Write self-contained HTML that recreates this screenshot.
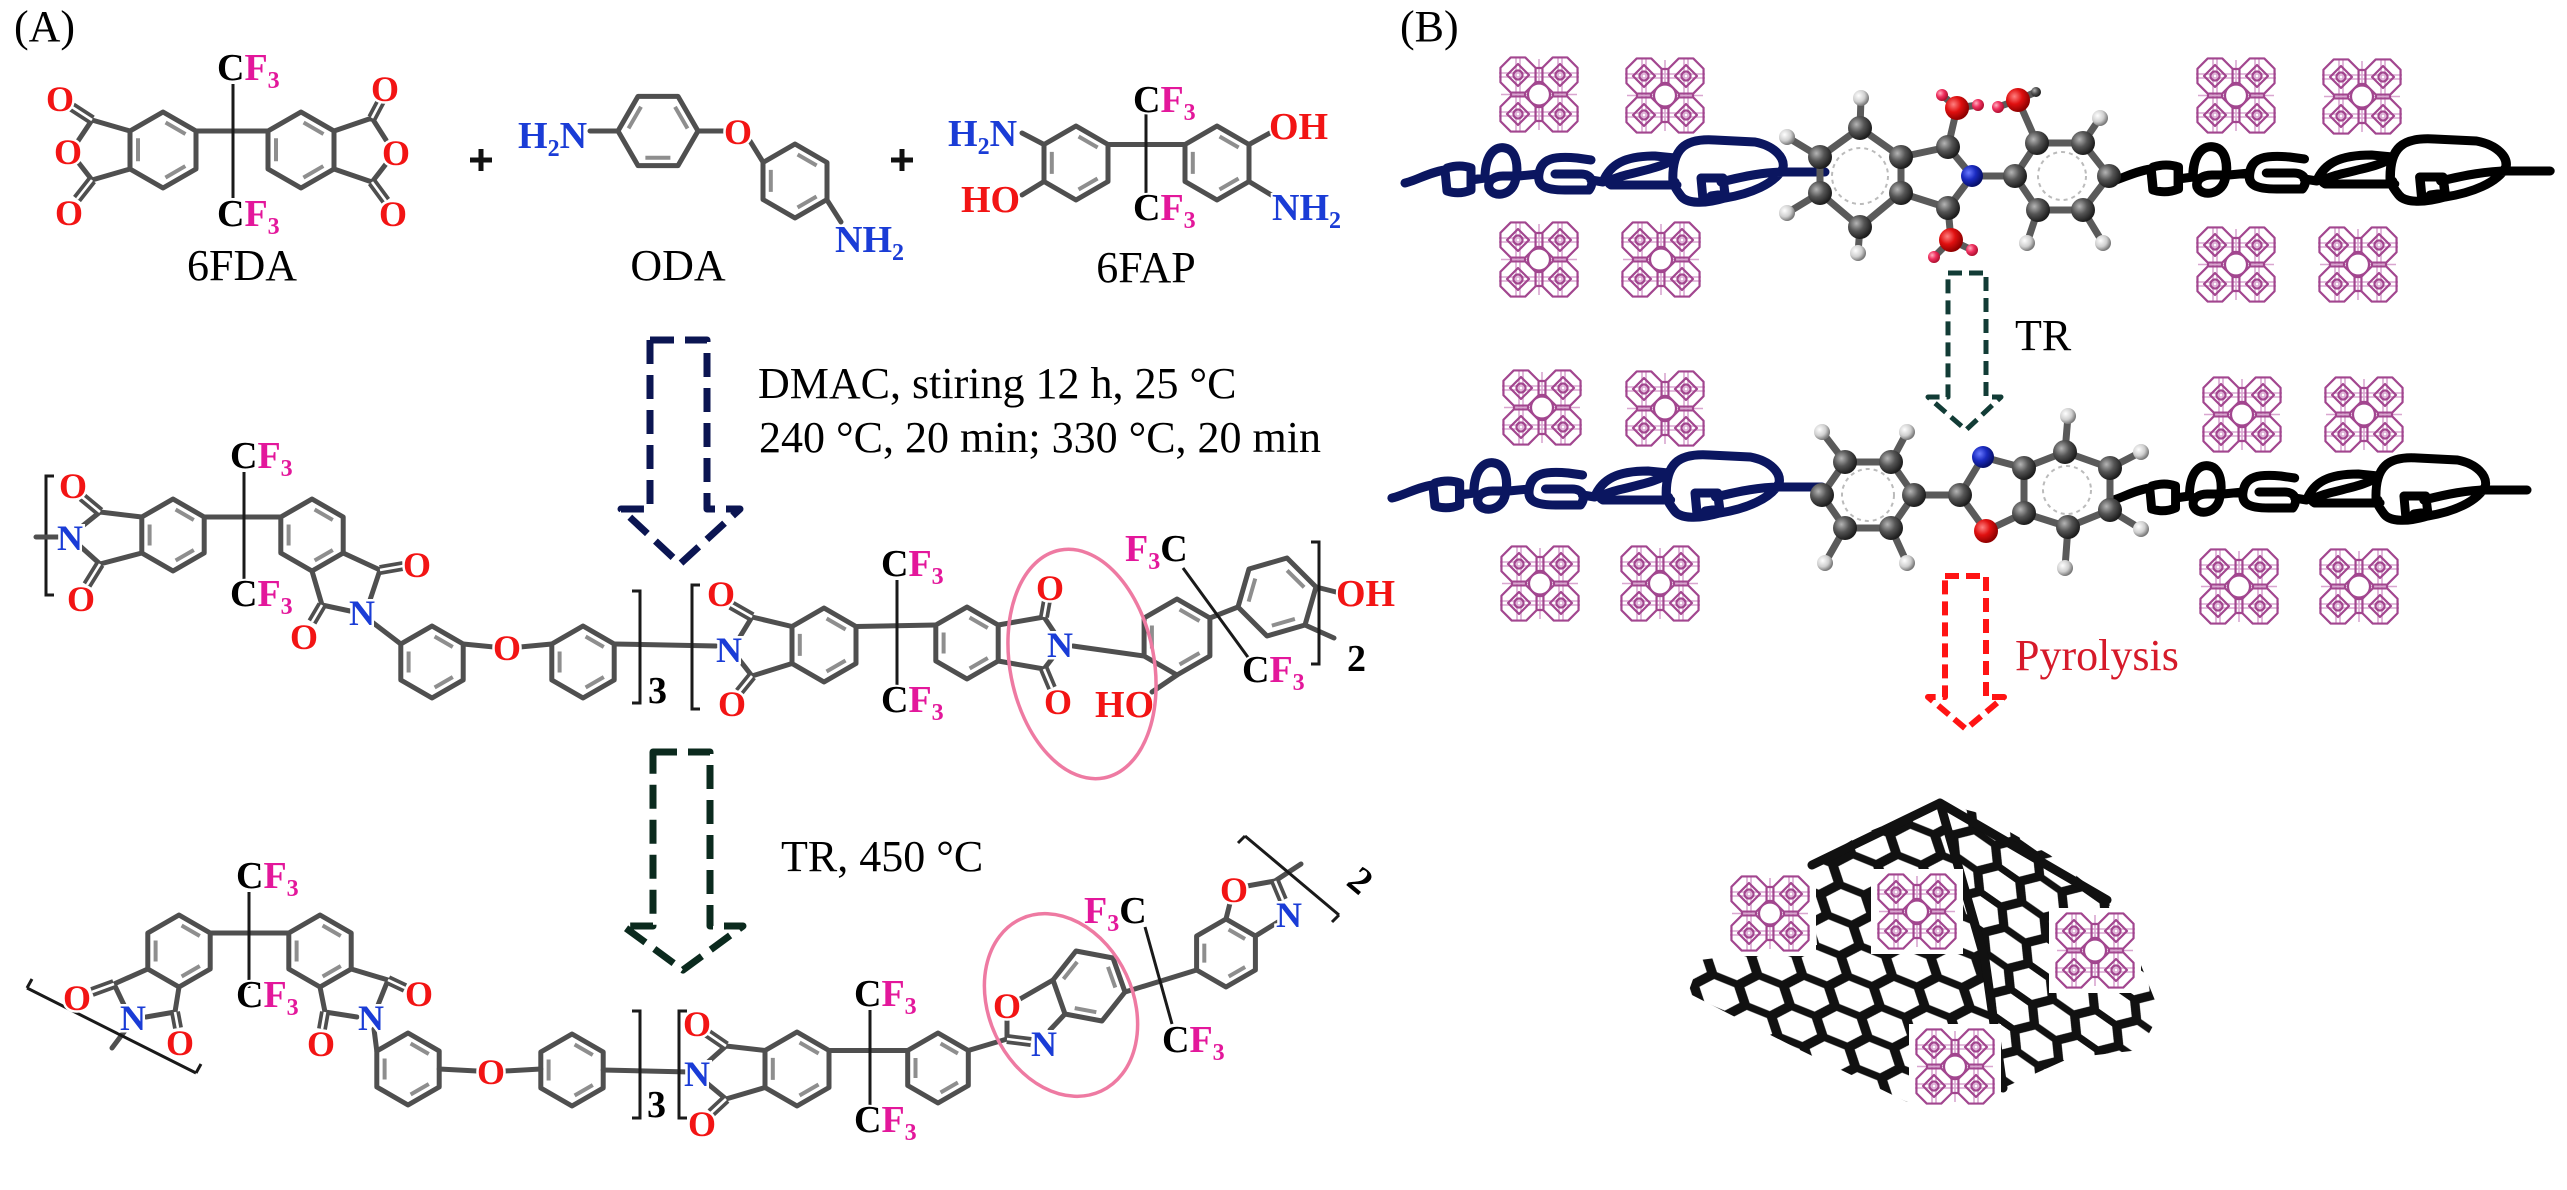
<!DOCTYPE html>
<html><head><meta charset="utf-8">
<style>
html,body{margin:0;padding:0;background:#fff}
svg{display:block}
</style></head><body>
<svg width="2567" height="1190" viewBox="0 0 2567 1190" xmlns="http://www.w3.org/2000/svg" xmlns:xlink="http://www.w3.org/1999/xlink">
<defs>
<style>
.t{font-family:"Liberation Serif",serif;font-size:44px;fill:#000}
.a{font-family:"Liberation Serif",serif;font-weight:bold;font-size:36px;text-anchor:middle;paint-order:stroke;stroke:#fff;stroke-width:5px}
.l{font-family:"Liberation Serif",serif;font-weight:bold;font-size:38px;paint-order:stroke;stroke:#fff;stroke-width:4px}
.o{fill:#f21414}.n{fill:#1a3cd6}.f{fill:#e3179b}.c{fill:#000}
.b{stroke:#4f4f4f;stroke-width:5;fill:none;stroke-linecap:round;stroke-linejoin:round}
.r{stroke:#4f4f4f;stroke-width:5;fill:none;stroke-linejoin:round}
.k{stroke:#1a1a1a;stroke-width:3;fill:none}
.in{stroke:#8e8e8e;stroke-width:4;fill:none}
.dbl{stroke:#4f4f4f;stroke-width:10;fill:none}
.dw{stroke:#fff;stroke-width:2.6;fill:none}
.s27{stroke-dasharray:21 33;stroke-dashoffset:-3}
.s28{stroke-dasharray:22 34;stroke-dashoffset:-3}
.s29{stroke-dasharray:23 35;stroke-dashoffset:-3}
.s26{stroke-dasharray:20 32;stroke-dashoffset:-3}
.s31{stroke-dasharray:25 37;stroke-dashoffset:-3}
.s30{stroke-dasharray:24 36;stroke-dashoffset:-3}
.s25{stroke-dasharray:19 31;stroke-dashoffset:-3}
.ch{fill:none;stroke-width:9;stroke-linecap:round;stroke-linejoin:round}
.bs{stroke:#5a5a5a;stroke-width:7;fill:none;stroke-linecap:round;stroke-linejoin:round}
</style>
<radialGradient id="gC" cx="35%" cy="35%" r="65%"><stop offset="0" stop-color="#b5b5b5"/><stop offset="0.5" stop-color="#555"/><stop offset="1" stop-color="#1e1e1e"/></radialGradient>
<radialGradient id="gH" cx="35%" cy="35%" r="65%"><stop offset="0" stop-color="#ffffff"/><stop offset="0.6" stop-color="#cfcfcf"/><stop offset="1" stop-color="#7a7a7a"/></radialGradient>
<radialGradient id="gO" cx="35%" cy="35%" r="65%"><stop offset="0" stop-color="#ff8080"/><stop offset="0.5" stop-color="#e01010"/><stop offset="1" stop-color="#900000"/></radialGradient>
<radialGradient id="gN" cx="35%" cy="35%" r="65%"><stop offset="0" stop-color="#6a7aff"/><stop offset="0.5" stop-color="#1a2ac0"/><stop offset="1" stop-color="#07106a"/></radialGradient>
<radialGradient id="gP" cx="35%" cy="35%" r="65%"><stop offset="0" stop-color="#ffb0c0"/><stop offset="0.5" stop-color="#f03060"/><stop offset="1" stop-color="#b01030"/></radialGradient>

<symbol id="mof" viewBox="0 0 84 77">
 <g fill="none" stroke="#d9a6d0" stroke-width="1.6">
  <path d="M2,17H82M2,21H82M2,56H82M2,60H82M19,1V76M23,1V76M61,1V76M65,1V76M4,38.5H80M42,3V74"/>
 </g>
 <g fill="none" stroke="#a2468f" stroke-width="2.2" stroke-linejoin="round">
  <polygon points="38.55,26.27 28.27,36.55 13.73,36.55 3.45,26.27 3.45,11.73 13.73,1.45 28.27,1.45 38.55,11.73"/>
  <polygon points="80.55,26.27 70.27,36.55 55.73,36.55 45.45,26.27 45.45,11.73 55.73,1.45 70.27,1.45 80.55,11.73"/>
  <polygon points="38.55,65.27 28.27,75.55 13.73,75.55 3.45,65.27 3.45,50.73 13.73,40.45 28.27,40.45 38.55,50.73"/>
  <polygon points="80.55,65.27 70.27,75.55 55.73,75.55 45.45,65.27 45.45,50.73 55.73,40.45 70.27,40.45 80.55,50.73"/>
  <path d="M38.5,12H45.5M38.5,26H45.5M38.5,51H45.5M38.5,65H45.5M14,36.5V40.5M28,36.5V40.5M56,36.5V40.5M70,36.5V40.5"/>
  <polygon points="21,8 32,19 21,30 10,19"/>
  <polygon points="63,8 74,19 63,30 52,19"/>
  <polygon points="21,47 32,58 21,69 10,58"/>
  <polygon points="63,47 74,58 63,69 52,58"/>
  <circle cx="21" cy="19" r="4.5"/><circle cx="63" cy="19" r="4.5"/>
  <circle cx="21" cy="58" r="4.5"/><circle cx="63" cy="58" r="4.5"/>
  <circle cx="42" cy="38.5" r="11" fill="#fff"/>
 </g>
</symbol>

<path id="chain" d="M0,5 C10,3 25,-6 40,-8 L42,13 Q54,17 66,12 L66,-10 Q55,-14 42,-10 M66,2 L80,0 C80,-26 92,-32 100,-30 C112,-28 114,-10 110,4 C106,18 88,20 84,10 C82,2 90,-2 98,-2 L114,-2 L134,-4 C136,-20 150,-22 172,-20 L186,-18 M134,-4 C132,8 140,12 160,12 L184,12 C190,4 186,-4 176,-4 L150,-4 M186,2 L198,4 C205,-14 220,-22 250,-22 L270,-20 C262,-12 240,-8 225,-4 C208,0 200,4 206,7 L272,7 M268,6 C266,-30 280,-40 310,-38 L350,-36 C370,-32 380,-20 378,-10 C370,6 345,16 320,20 C300,26 282,26 276,18 C270,10 268,6 270,4 M298,22 L296,0 L318,0 L320,16 L306,18 M316,4 C340,-2 360,-6 380,-6 L420,-6"/>

<pattern id="hexA" patternUnits="userSpaceOnUse" width="54" height="31.18" patternTransform="rotate(22) scale(1.55,1.05)">
 <rect width="54" height="31.18" fill="#fff"/>
 <path d="M0,15.59 H9 L18,0 H36 L45,15.59 H54 M9,15.59 L18,31.18 H36 L45,15.59" stroke="#111" stroke-width="7" fill="none" stroke-linecap="round"/>
</pattern>
<pattern id="hexB" patternUnits="userSpaceOnUse" width="54" height="31.18" patternTransform="rotate(35) scale(1.5,1.0)">
 <rect width="54" height="31.18" fill="#fff"/>
 <path d="M0,15.59 H9 L18,0 H36 L45,15.59 H54 M9,15.59 L18,31.18 H36 L45,15.59" stroke="#111" stroke-width="7" fill="none" stroke-linecap="round"/>
</pattern>
</defs>

<rect width="2567" height="1190" fill="#fff"/>

<!-- ================= PANEL A ================= -->
<text class="t" x="14" y="41">(A)</text>

<!-- 6FDA -->
<polygon class="r" points="163,112 196,131 196,169 163,188 130,169 130,131"/>
<polygon class="in s29" points="163,121 188,135.5 188,164.5 163,179 138,164.5 138,135.5"/>
<polygon class="r" points="301,112 334,131 334,169 301,188 268,169 268,131"/>
<polygon class="in s29" points="301,121 326,135.5 326,164.5 301,179 276,164.5 276,135.5"/>
<path class="b" d="M196,131 L268,131 M130,131 L92,120 M130,169 L92,180 M92,120 L78,141 M92,180 L78,162 M334,131 L372,118 M334,169 L372,182 M372,118 L386,140 M372,182 L386,164"/>
<path class="k" d="M233,84 L233,198"/>
<path class="dbl" d="M92,120 L72,107 M92,180 L77,199 M372,118 L381,101 M372,182 L386,201"/>
<path class="dw" d="M92,120 L72,107 M92,180 L77,199 M372,118 L381,101 M372,182 L386,201"/>
<text class="a o" x="60" y="111">O</text>
<text class="a o" x="68" y="164">O</text>
<text class="a o" x="69" y="225">O</text>
<text class="a o" x="385" y="101">O</text>
<text class="a o" x="396" y="165">O</text>
<text class="a o" x="393" y="226">O</text>
<text class="l" x="217" y="80"><tspan class="c">C</tspan><tspan class="f">F</tspan><tspan class="f" font-size="24" dy="8">3</tspan></text>
<text class="l" x="217" y="226"><tspan class="c">C</tspan><tspan class="f">F</tspan><tspan class="f" font-size="24" dy="8">3</tspan></text>
<text class="t" x="242" y="280" text-anchor="middle">6FDA</text>

<!-- plus signs -->
<path d="M470,160 H492 M481,149 V171 M891,160 H913 M902,149 V171" stroke="#111" stroke-width="5"/>

<!-- ODA -->
<polygon class="r" points="618,131 638,96.4 678,96.4 698,131 678,165.6 638,165.6"/>
<polygon class="in s31" points="627,131 642.5,104.2 673.5,104.2 689,131 673.5,157.8 642.5,157.8"/>
<polygon class="r" points="795,144 827,162.5 827,199.5 795,218 763,199.5 763,162.5"/>
<polygon class="in s28" points="795,153 819.2,167 819.2,195 795,209 770.8,195 770.8,167"/>
<path class="b" d="M590,131 L618,131 M698,131 L725,131 M750,141 L763,162 M827,200 L841,222"/>
<text class="l n" x="518" y="148">H<tspan font-size="24" dy="8">2</tspan><tspan dy="-8">N</tspan></text>
<text class="a o" x="738" y="144">O</text>
<text class="l n" x="835" y="252">NH<tspan font-size="24" dy="8">2</tspan></text>
<text class="t" x="678" y="280" text-anchor="middle">ODA</text>

<!-- 6FAP -->
<polygon class="r" points="1076,126 1108,144.5 1108,181.5 1076,200 1044,181.5 1044,144.5"/>
<polygon class="in s28" points="1076,135 1100.2,149 1100.2,177 1076,191 1051.8,177 1051.8,149"/>
<polygon class="r" points="1217,126 1249,144.5 1249,181.5 1217,200 1185,181.5 1185,144.5"/>
<polygon class="in s28" points="1217,135 1241.2,149 1241.2,177 1217,191 1192.8,177 1192.8,149"/>
<path class="b" d="M1108,144.5 L1185,144.5 M1044,144.5 L1022,133 M1044,181.5 L1022,195 M1249,144.5 L1270,133 M1249,181.5 L1273,196"/>
<path class="k" d="M1146,114 L1146,198"/>
<text class="l n" x="948" y="146">H<tspan font-size="24" dy="8">2</tspan><tspan dy="-8">N</tspan></text>
<text class="l o" x="961" y="212">HO</text>
<text class="l o" x="1269" y="139">OH</text>
<text class="l n" x="1272" y="220">NH<tspan font-size="24" dy="8">2</tspan></text>
<text class="l" x="1133" y="112"><tspan class="c">C</tspan><tspan class="f">F</tspan><tspan class="f" font-size="24" dy="8">3</tspan></text>
<text class="l" x="1133" y="220"><tspan class="c">C</tspan><tspan class="f">F</tspan><tspan class="f" font-size="24" dy="8">3</tspan></text>
<text class="t" x="1146" y="282" text-anchor="middle">6FAP</text>

<!-- Arrow 1 -->
<path d="M650,340 L707,340 L707,509 L740,509 L680,564 L621,509 L650,509 Z" fill="none" stroke="#0b1552" stroke-width="7" stroke-dasharray="24 11" stroke-linejoin="round"/>
<text class="t" x="758" y="398">DMAC, stiring 12 h, 25 °C</text>
<text class="t" x="759" y="452">240 °C, 20 min; 330 °C, 20 min</text>

<!-- Middle polymer -->
<path class="k" d="M54,476 L46,476 L46,595 L54,595"/>
<polygon class="r" points="173,499 204.2,517 204.2,553 173,571 141.8,553 141.8,517"/>
<polygon class="in s27" points="173,508 196.4,521.5 196.4,548.5 173,562 149.6,548.5 149.6,521.5"/>
<polygon class="r" points="312,499 343.2,517 343.2,553 312,571 280.8,553 280.8,517"/>
<polygon class="in s27" points="312,508 335.4,521.5 335.4,548.5 312,562 288.6,548.5 288.6,521.5"/>
<polygon class="r" points="432,626 463.2,644 463.2,680 432,698 400.8,680 400.8,644"/>
<polygon class="in s27" points="432,635 455.4,648.5 455.4,675.5 432,689 408.6,675.5 408.6,648.5"/>
<polygon class="r" points="583,626 614.2,644 614.2,680 583,698 551.8,680 551.8,644"/>
<polygon class="in s27" points="583,635 606.4,648.5 606.4,675.5 583,689 559.6,675.5 559.6,648.5"/>
<polygon class="r" points="824,608 856,626.5 856,663.5 824,682 792,663.5 792,626.5"/>
<polygon class="in s28" points="824,617 848.2,631 848.2,659 824,673 799.8,659 799.8,631"/>
<polygon class="r" points="967,607 998.2,625 998.2,661 967,679 935.8,661 935.8,625"/>
<polygon class="in s27" points="967,616 990.4,629.5 990.4,656.5 967,670 943.6,656.5 943.6,629.5"/>
<polygon class="r" points="1177,599 1209.9,618 1209.9,656 1177,675 1144.1,656 1144.1,618"/>
<polygon class="in s29" points="1177,608 1202.1,622.5 1202.1,651.5 1177,666 1151.9,651.5 1151.9,622.5"/>
<polygon class="r" points="1238,607 1249,569 1287,558 1316,587 1305,625 1267,636"/>
<polygon class="in s30" points="1247.8,604.5 1256,576 1284.5,567.8 1306.3,589.5 1298,618 1269.5,626.3"/>
<path class="b" d="M36,537 L58,537 M80,528 L100,512 M80,546 L100,564 M100,512 L141.8,517 M100,564 L141.8,553 M204.2,517 L280.8,517 M343.2,553 L380,570 M312,571 L322,605 M380,570 L370,600 M322,605 L350,611 M372,622 L400.8,644 M463.2,644 L494,647 M520,647 L551.8,644 M614.2,644 L716,646 M738,640 L752,617 M738,658 L752,676 M752,617 L792,626.5 M752,676 L792,663.5 M856,626.5 L935.8,625 M998.2,625 L1044,617 M998.2,661 L1044,669 M1044,617 L1054,632 M1044,669 L1054,656 M1073,646 L1144.1,656 M1177,675 L1152,692 M1209.9,618 L1238,607 M1316,587 L1336,592 M1305,625 L1334,638"/>
<path class="k" d="M244,472 L244,580 M897,580 L897,690 M1183,568 L1250,660"/>
<path class="dbl" d="M100,512 L82,497 M100,564 L87,585 M380,570 L403,566 M322,605 L312,622 M752,617 L731,605 M752,676 L739,692 M1044,617 L1047,600 M1044,669 L1052,688"/>
<path class="dw" d="M100,512 L82,497 M100,564 L87,585 M380,570 L403,566 M322,605 L312,622 M752,617 L731,605 M752,676 L739,692 M1044,617 L1047,600 M1044,669 L1052,688"/>
<path class="k" d="M632,591 L640,591 L640,703 L632,703 M700,585 L692,585 L692,709 L700,709 M1311,542 L1319,542 L1319,664 L1311,664"/>
<text class="a n" x="70" y="550">N</text>
<text class="a o" x="73" y="498">O</text>
<text class="a o" x="81" y="611">O</text>
<text class="a n" x="362" y="625">N</text>
<text class="a o" x="417" y="577">O</text>
<text class="a o" x="304" y="649">O</text>
<text class="a o" x="507" y="660">O</text>
<text class="a n" x="729" y="662">N</text>
<text class="a o" x="721" y="606">O</text>
<text class="a o" x="732" y="716">O</text>
<text class="a o" x="1050" y="600">O</text>
<text class="a o" x="1058" y="714">O</text>
<text class="a n" x="1060" y="657">N</text>
<text class="l o" x="1095" y="717">HO</text>
<text class="l o" x="1336" y="606">OH</text>
<text class="l" x="648" y="703" font-size="26">3</text>
<text class="l" x="1347" y="671" font-size="24">2</text>
<text class="l" x="230" y="468"><tspan class="c">C</tspan><tspan class="f">F</tspan><tspan class="f" font-size="24" dy="8">3</tspan></text>
<text class="l" x="230" y="606"><tspan class="c">C</tspan><tspan class="f">F</tspan><tspan class="f" font-size="24" dy="8">3</tspan></text>
<text class="l" x="881" y="576"><tspan class="c">C</tspan><tspan class="f">F</tspan><tspan class="f" font-size="24" dy="8">3</tspan></text>
<text class="l" x="881" y="712"><tspan class="c">C</tspan><tspan class="f">F</tspan><tspan class="f" font-size="24" dy="8">3</tspan></text>
<text class="l" x="1242" y="682"><tspan class="c">C</tspan><tspan class="f">F</tspan><tspan class="f" font-size="24" dy="8">3</tspan></text>
<text class="l" x="1125" y="561"><tspan class="f">F</tspan><tspan class="f" font-size="24" dy="8">3</tspan><tspan class="c" dy="-8">C</tspan></text>
<ellipse cx="1082" cy="664" rx="72" ry="116" transform="rotate(-11 1082 664)" fill="none" stroke="#ee7aa2" stroke-width="3.5"/>

<!-- Arrow 2 -->
<path d="M653,752 L710,752 L710,926 L743,926 L683,970 L623,926 L653,926 Z" fill="none" stroke="#0b2a1e" stroke-width="7" stroke-dasharray="24 11" stroke-linejoin="round"/>
<text class="t" x="781" y="871">TR, 450 °C</text>

<!-- Bottom polymer -->
<polygon class="r" points="179,915 210.2,933 210.2,969 179,987 147.8,969 147.8,933"/>
<polygon class="in s27" points="179,924 202.4,937.5 202.4,964.5 179,978 155.6,964.5 155.6,937.5"/>
<polygon class="r" points="320,915 351.2,933 351.2,969 320,987 288.8,969 288.8,933"/>
<polygon class="in s27" points="320,924 343.4,937.5 343.4,964.5 320,978 296.6,964.5 296.6,937.5"/>
<polygon class="r" points="408,1033 439.2,1051 439.2,1087 408,1105 376.8,1087 376.8,1051"/>
<polygon class="in s27" points="408,1042 431.4,1055.5 431.4,1082.5 408,1096 384.6,1082.5 384.6,1055.5"/>
<polygon class="r" points="572,1034 603.2,1052 603.2,1088 572,1106 540.8,1088 540.8,1052"/>
<polygon class="in s27" points="572,1043 595.4,1056.5 595.4,1083.5 572,1097 548.6,1083.5 548.6,1056.5"/>
<polygon class="r" points="797,1032 829,1050.5 829,1087.5 797,1106 765,1087.5 765,1050.5"/>
<polygon class="in s28" points="797,1041 821.2,1055 821.2,1083 797,1097 772.8,1083 772.8,1055"/>
<polygon class="r" points="938,1033 968.3,1050.5 968.3,1085.5 938,1103 907.7,1085.5 907.7,1050.5"/>
<polygon class="in s26" points="938,1042 960.5,1055 960.5,1081 938,1094 915.5,1081 915.5,1055"/>
<polygon class="r" points="1053,980 1076,951 1113,958 1125,992 1102,1021 1065,1014"/>
<polygon class="in s28" points="1061.6,981.4 1079.1,959.4 1107.2,964.7 1116.4,990.6 1098.9,1012.7 1070.8,1007.4"/>
<polygon class="r" points="1226,919 1255.4,936 1255.4,970 1226,987 1196.6,970 1196.6,936"/>
<polygon class="in s25" points="1226,928 1247.7,940.5 1247.7,965.5 1226,978 1204.3,965.5 1204.3,940.5"/>
<path class="b" d="M147.8,969 L114,984 M179,987 L175,1012 M114,984 L124,1005 M175,1012 L146,1017 M127,1028 L112,1048 M210.2,933 L288.8,933 M351.2,969 L388,980 M320,987 L325,1012 M388,980 L378,1005 M325,1012 L357,1017 M374,1029 L376.8,1051 M439.2,1069 L477,1071 M505,1071 L540.8,1069 M603.2,1070 L690,1072 M708,1062 L726,1046 M708,1084 L726,1099 M726,1046 L765,1050.5 M726,1099 L765,1087.5 M829,1050.5 L907.7,1050.5 M968.3,1050.5 L1007,1039 M1007,1039 L1007,1020 M1020,999 L1053,980 M1050,1030 L1065,1014 M1125,992 L1196.6,970 M1226,919 L1230,903 M1247,886 L1275,881 M1278,922 L1255.4,936 M1275,881 L1301,864"/>
<path class="k" d="M249,892 L249,988 M870,1010 L870,1108 M1145,927 L1172,1024 M27,988 L196,1073 M27,988 L32,979 M196,1073 L201,1064 M1245,836 L1339,915 M1245,836 L1238,843 M1339,915 L1332,922 M632,1011 L640,1011 L640,1118 L632,1118 M687,1011 L679,1011 L679,1118 L687,1118"/>
<path class="dbl" d="M114,984 L92,992 M175,1012 L178,1028 M388,980 L405,988 M325,1012 L322,1029 M726,1046 L707,1033 M726,1099 L711,1113 M1007,1039 L1031,1042 M1275,881 L1283,900"/>
<path class="dw" d="M114,984 L92,992 M175,1012 L178,1028 M388,980 L405,988 M325,1012 L322,1029 M726,1046 L707,1033 M726,1099 L711,1113 M1007,1039 L1031,1042 M1275,881 L1283,900"/>
<text class="a o" x="77" y="1010">O</text>
<text class="a o" x="180" y="1055">O</text>
<text class="a n" x="133" y="1030">N</text>
<text class="a o" x="419" y="1006">O</text>
<text class="a o" x="321" y="1056">O</text>
<text class="a n" x="371" y="1030">N</text>
<text class="a o" x="491" y="1084">O</text>
<text class="a n" x="697" y="1086">N</text>
<text class="a o" x="697" y="1036">O</text>
<text class="a o" x="702" y="1136">O</text>
<text class="a o" x="1007" y="1018">O</text>
<text class="a n" x="1044" y="1056">N</text>
<text class="a o" x="1234" y="902">O</text>
<text class="a n" x="1289" y="927">N</text>
<text class="l" x="647" y="1117" font-size="26">3</text>
<text class="l" x="0" y="0" font-size="24" transform="translate(1345,884) rotate(40)">2</text>
<text class="l" x="236" y="888"><tspan class="c">C</tspan><tspan class="f">F</tspan><tspan class="f" font-size="24" dy="8">3</tspan></text>
<text class="l" x="236" y="1007"><tspan class="c">C</tspan><tspan class="f">F</tspan><tspan class="f" font-size="24" dy="8">3</tspan></text>
<text class="l" x="854" y="1006"><tspan class="c">C</tspan><tspan class="f">F</tspan><tspan class="f" font-size="24" dy="8">3</tspan></text>
<text class="l" x="854" y="1132"><tspan class="c">C</tspan><tspan class="f">F</tspan><tspan class="f" font-size="24" dy="8">3</tspan></text>
<text class="l" x="1162" y="1052"><tspan class="c">C</tspan><tspan class="f">F</tspan><tspan class="f" font-size="24" dy="8">3</tspan></text>
<text class="l" x="1084" y="923"><tspan class="f">F</tspan><tspan class="f" font-size="24" dy="8">3</tspan><tspan class="c" dy="-8">C</tspan></text>
<ellipse cx="1061" cy="1005" rx="72" ry="95" transform="rotate(-25 1061 1005)" fill="none" stroke="#ee7aa2" stroke-width="3.5"/>

<!-- ================= PANEL B ================= -->
<text class="t" x="1400" y="41">(B)</text>

<!-- MOF blocks -->
<use xlink:href="#mof" href="#mof" x="1497" y="56" width="84" height="77"/>
<use xlink:href="#mof" href="#mof" x="1623" y="57" width="84" height="77"/>
<use xlink:href="#mof" href="#mof" x="2194" y="57" width="84" height="77"/>
<use xlink:href="#mof" href="#mof" x="2320" y="58" width="84" height="77"/>
<use xlink:href="#mof" href="#mof" x="1497" y="221" width="84" height="77"/>
<use xlink:href="#mof" href="#mof" x="1619" y="221" width="84" height="77"/>
<use xlink:href="#mof" href="#mof" x="2194" y="226" width="84" height="77"/>
<use xlink:href="#mof" href="#mof" x="2316" y="226" width="84" height="77"/>
<use xlink:href="#mof" href="#mof" x="1500" y="369" width="84" height="77"/>
<use xlink:href="#mof" href="#mof" x="1623" y="370" width="84" height="77"/>
<use xlink:href="#mof" href="#mof" x="2200" y="376" width="84" height="77"/>
<use xlink:href="#mof" href="#mof" x="2322" y="376" width="84" height="77"/>
<use xlink:href="#mof" href="#mof" x="1498" y="545" width="84" height="77"/>
<use xlink:href="#mof" href="#mof" x="1618" y="545" width="84" height="77"/>
<use xlink:href="#mof" href="#mof" x="2197" y="548" width="84" height="77"/>
<use xlink:href="#mof" href="#mof" x="2317" y="548" width="84" height="77"/>

<!-- chains -->
<use xlink:href="#chain" href="#chain" class="ch" stroke="#0b1660" transform="translate(1405,178)"/>
<use xlink:href="#chain" href="#chain" class="ch" stroke="#0b1660" transform="translate(1392,493) scale(1.024,1)"/>
<use xlink:href="#chain" href="#chain" class="ch" stroke="#000" transform="translate(2109,177) scale(1.05,1)"/>
<use xlink:href="#chain" href="#chain" class="ch" stroke="#000" transform="translate(2110,496) scale(0.993,1)"/>

<!-- Molecule 1 (ball & stick) -->
<g>
<path class="bs" d="M1860,128 L1901,157 L1901,193 L1860,227 L1820,193 L1820,157 Z M1860,128 L1861,98 M1820,157 L1787,137 M1820,193 L1787,213 M1860,227 L1858,253 M1901,157 L1948,147 L1972,176 L1948,208 L1901,193 M1948,147 L1957,108 M1948,208 L1951,240 M1957,108 L1942,95 M1957,108 L1978,105 M1951,240 L1934,257 M1951,240 L1972,250 M1972,176 L2015,176 M2015,176 L2037,143 L2083,143 L2109,176 L2083,210 L2038,210 Z M2037,143 L2018,100 L1998,107 M2018,100 L2036,92 M2083,143 L2100,118 M2083,210 L2103,243 M2038,210 L2027,243"/>
<circle cx="1860" cy="176" r="28" fill="none" stroke="#bbb" stroke-width="2" stroke-dasharray="4 4"/>
<circle cx="2062" cy="176" r="24" fill="none" stroke="#bbb" stroke-width="2" stroke-dasharray="4 4"/>
<g fill="url(#gH)">
<circle cx="1861" cy="98" r="8"/><circle cx="1787" cy="137" r="8"/><circle cx="1787" cy="213" r="8"/><circle cx="1858" cy="253" r="8"/><circle cx="2100" cy="118" r="8"/><circle cx="2103" cy="243" r="8"/><circle cx="2027" cy="243" r="8"/>
</g>
<g fill="url(#gC)">
<circle cx="1860" cy="128" r="12"/><circle cx="1901" cy="157" r="12"/><circle cx="1901" cy="193" r="12"/><circle cx="1860" cy="227" r="12"/><circle cx="1820" cy="193" r="12"/><circle cx="1820" cy="157" r="12"/>
<circle cx="1948" cy="147" r="12"/><circle cx="1948" cy="208" r="12"/>
<circle cx="2015" cy="176" r="12"/><circle cx="2037" cy="143" r="12"/><circle cx="2083" cy="143" r="12"/><circle cx="2109" cy="176" r="12"/><circle cx="2083" cy="210" r="12"/><circle cx="2038" cy="210" r="12"/>
<circle cx="2036" cy="92" r="5"/>
</g>
<circle cx="1972" cy="176" r="11" fill="url(#gN)"/>
<g fill="url(#gO)"><circle cx="1957" cy="108" r="12"/><circle cx="1951" cy="240" r="12"/><circle cx="2018" cy="100" r="12"/></g>
<g fill="url(#gP)"><circle cx="1942" cy="95" r="6"/><circle cx="1978" cy="105" r="6"/><circle cx="1934" cy="257" r="6"/><circle cx="1972" cy="250" r="6"/><circle cx="1998" cy="107" r="6"/></g>
</g>

<!-- Molecule 2 -->
<g>
<path class="bs" d="M1822,495 L1845,462 L1891,462 L1914,495 L1891,528 L1845,528 Z M1845,462 L1822,432 M1891,462 L1907,432 M1845,528 L1825,563 M1891,528 L1907,563 M1914,495 L1960,495 L1983,457 L2024,468 M1960,495 L1986,531 L2024,513 M2024,468 L2065,452 L2110,468 L2110,510 L2068,527 L2024,513 Z M2065,452 L2068,416 M2110,468 L2141,452 M2110,510 L2141,529 M2068,527 L2065,568"/>
<circle cx="1868" cy="495" r="26" fill="none" stroke="#bbb" stroke-width="2" stroke-dasharray="4 4"/>
<circle cx="2067" cy="490" r="24" fill="none" stroke="#bbb" stroke-width="2" stroke-dasharray="4 4"/>
<g fill="url(#gH)">
<circle cx="1822" cy="432" r="8"/><circle cx="1907" cy="432" r="8"/><circle cx="1825" cy="563" r="8"/><circle cx="1907" cy="563" r="8"/><circle cx="2068" cy="416" r="8"/><circle cx="2141" cy="452" r="8"/><circle cx="2141" cy="529" r="8"/><circle cx="2065" cy="568" r="8"/>
</g>
<g fill="url(#gC)">
<circle cx="1822" cy="495" r="12"/><circle cx="1845" cy="462" r="12"/><circle cx="1891" cy="462" r="12"/><circle cx="1914" cy="495" r="12"/><circle cx="1891" cy="528" r="12"/><circle cx="1845" cy="528" r="12"/>
<circle cx="1960" cy="495" r="12"/>
<circle cx="2024" cy="468" r="12"/><circle cx="2065" cy="452" r="12"/><circle cx="2110" cy="468" r="12"/><circle cx="2110" cy="510" r="12"/><circle cx="2068" cy="527" r="12"/><circle cx="2024" cy="513" r="12"/>
</g>
<circle cx="1983" cy="457" r="11" fill="url(#gN)"/>
<circle cx="1986" cy="531" r="12" fill="url(#gO)"/>
</g>

<!-- TR arrow -->
<path d="M1948,273 L1986,273 L1986,397 L2001,397 L1966,430 L1928,397 L1948,397 Z" fill="none" stroke="#123c36" stroke-width="5" stroke-dasharray="14 7" stroke-linejoin="round"/>
<text class="t" x="2015" y="350">TR</text>

<!-- Pyrolysis arrow -->
<path d="M1945,576 L1986,576 L1986,697 L2004,697 L1966,729 L1928,697 L1945,697 Z" fill="none" stroke="#ff1414" stroke-width="6" stroke-dasharray="14 7" stroke-linejoin="round"/>
<text class="t" x="2015" y="670" style="fill:#d61a2a">Pyrolysis</text>

<!-- Carbon mesh -->
<polygon points="1940,803 1860,835 1812,865 1817,945 1700,960 1688,993 1800,1050 1907,1102 2003,1088 1985,960" fill="url(#hexA)"/>
<polygon points="1940,803 1975,812 2050,855 2107,900 2135,950 2160,1013 2140,1050 2070,1058 2003,1088 1985,960" fill="url(#hexB)"/>
<path d="M1940,803 L1985,960 L2003,1088 M1940,803 L1812,865 M1940,803 L2107,900" stroke="#111" stroke-width="9" fill="none" stroke-linecap="round"/>
<g fill="#fff">
<rect x="1724" y="871" width="92" height="85"/>
<rect x="1871" y="869" width="92" height="85"/>
<rect x="2049" y="908" width="92" height="85"/>
<rect x="1909" y="1024" width="92" height="85"/>
</g>
<use xlink:href="#mof" href="#mof" x="1728" y="875" width="84" height="77"/>
<use xlink:href="#mof" href="#mof" x="1875" y="873" width="84" height="77"/>
<use xlink:href="#mof" href="#mof" x="2053" y="912" width="84" height="77"/>
<use xlink:href="#mof" href="#mof" x="1913" y="1028" width="84" height="77"/>
</svg>
</body></html>
